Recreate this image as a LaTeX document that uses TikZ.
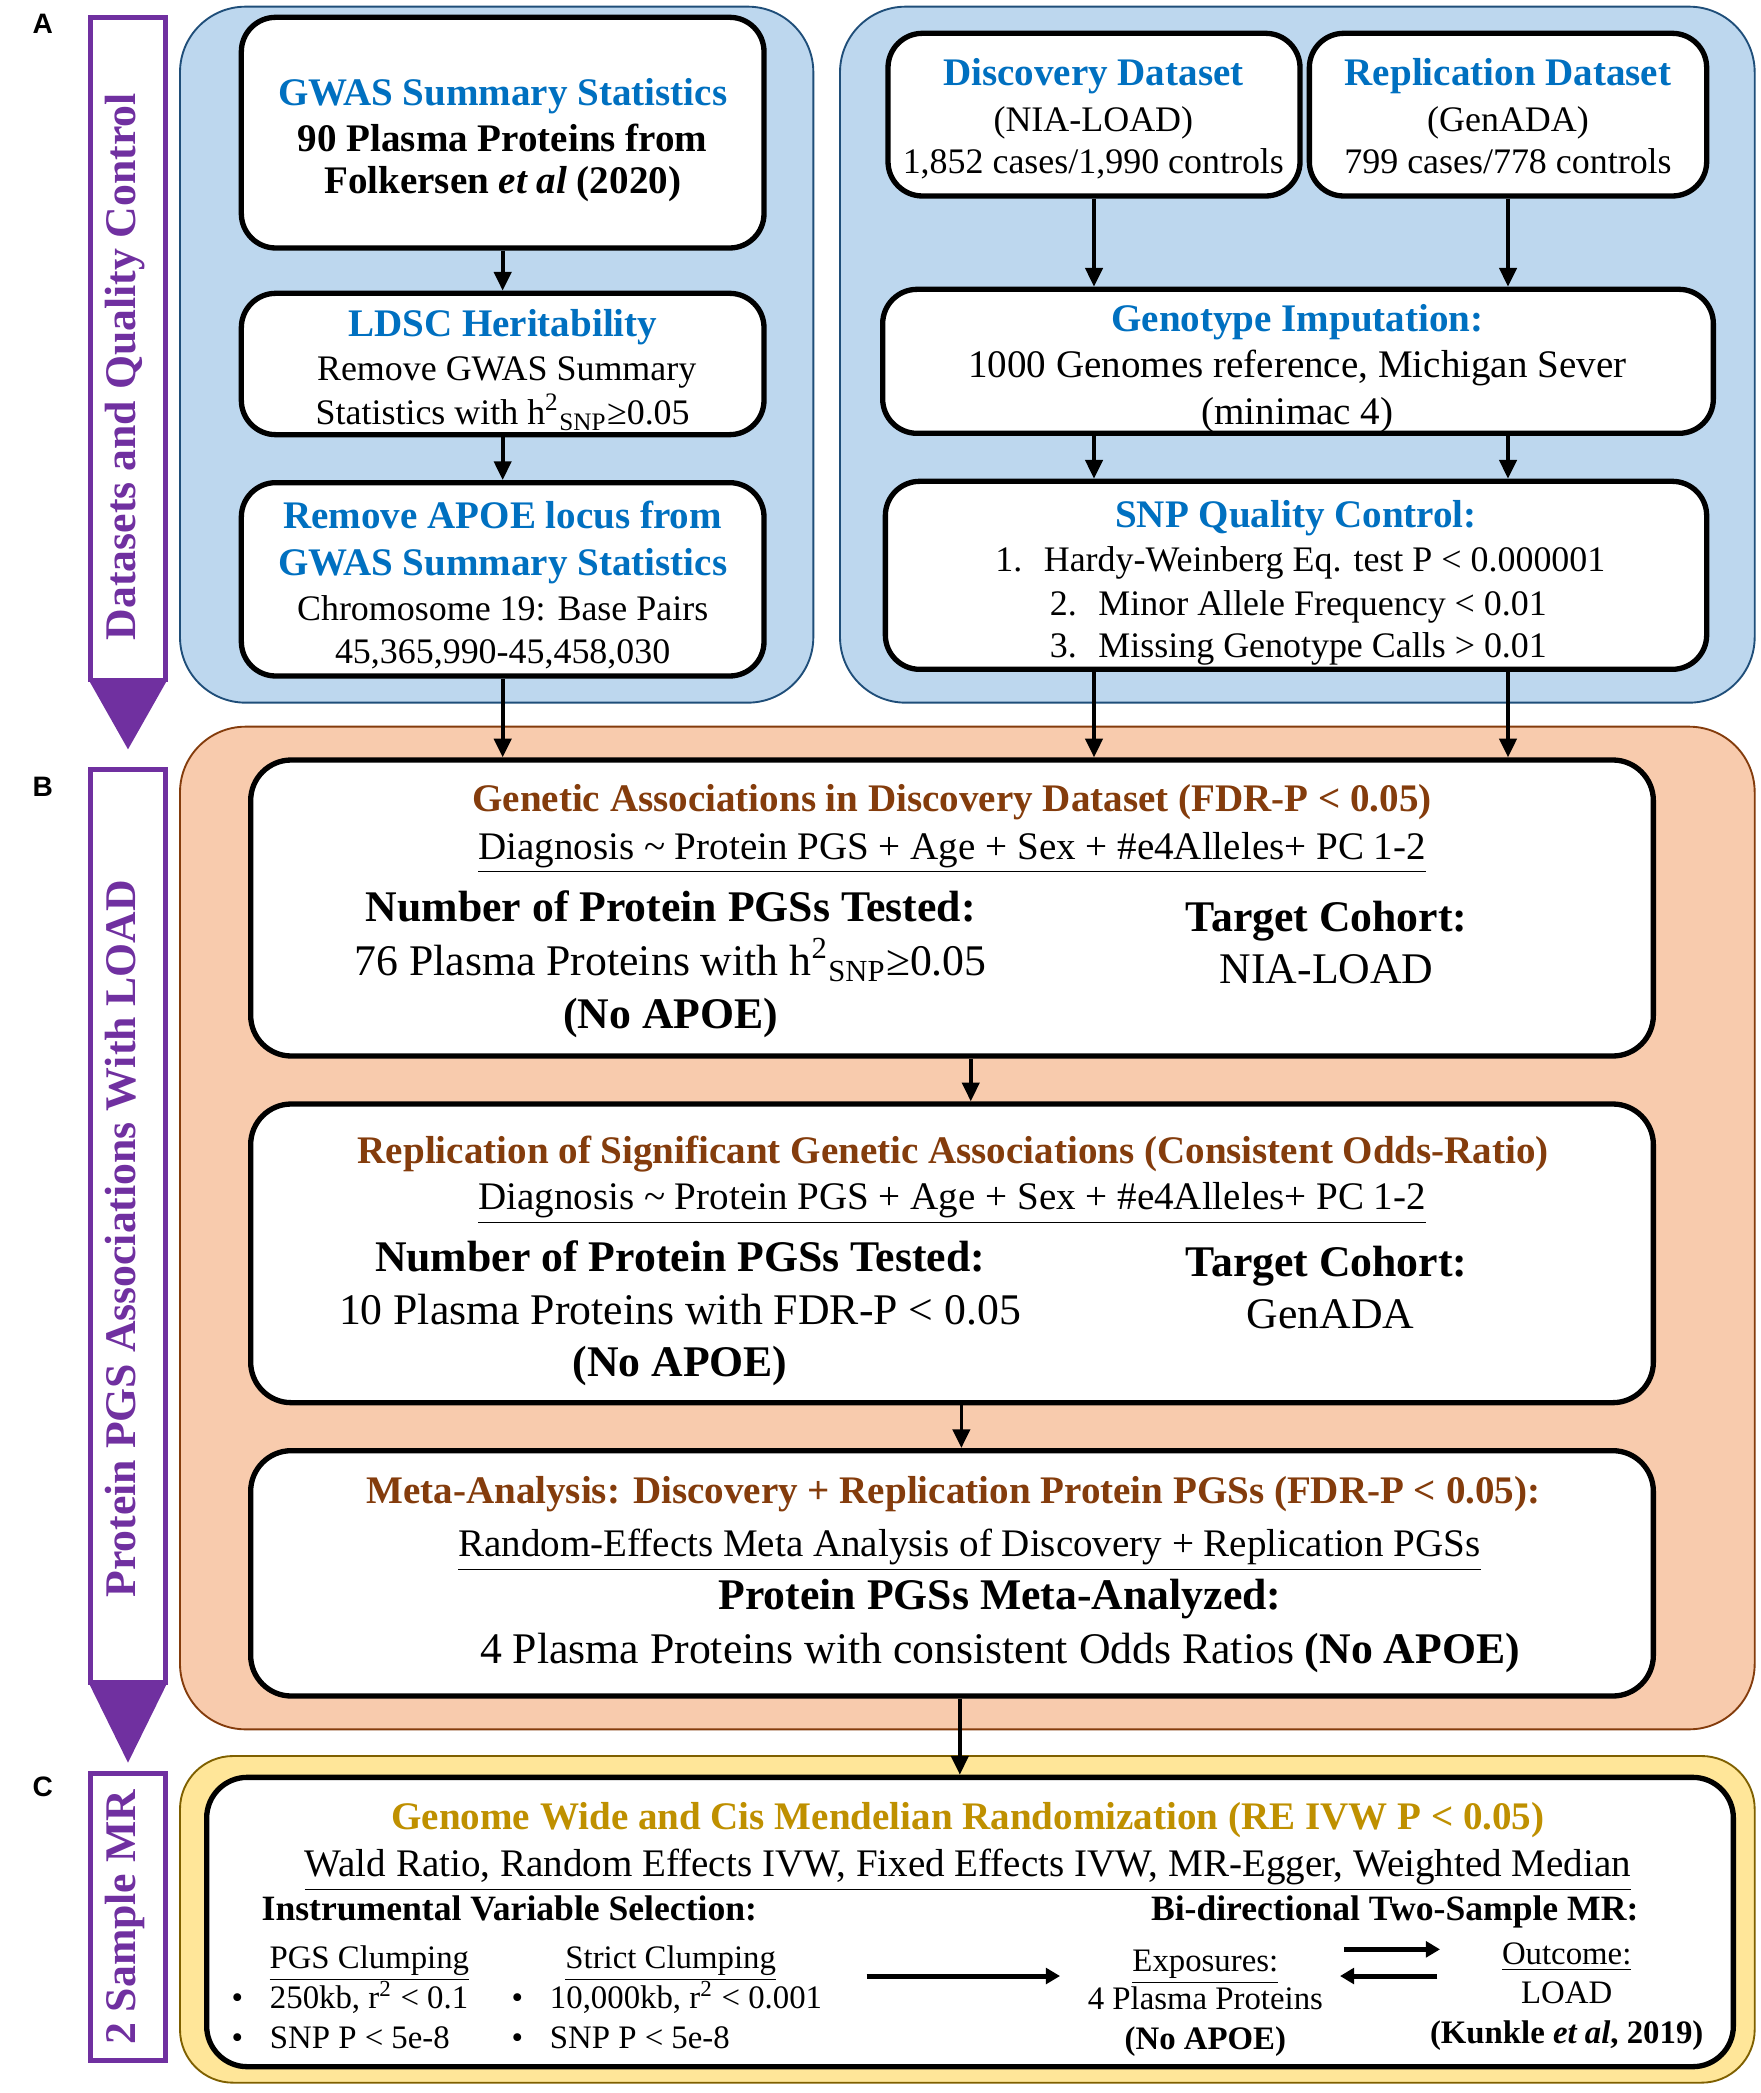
\documentclass[tikz,border=0pt]{standalone}
\usepackage{fontspec}
\setmainfont{Liberation Serif}
\newfontfamily\panelfont{Liberation Sans}
\usepackage{xcolor}
\definecolor{txtblue}{HTML}{0070C0}
\definecolor{txtbrown}{HTML}{843C0C}
\definecolor{txtgold}{HTML}{BF9000}
\definecolor{mpurple}{HTML}{7030A0}
\definecolor{bluefill}{HTML}{BDD7EE}
\definecolor{blueedge}{HTML}{1F4E79}
\definecolor{orangefill}{HTML}{F8CBAD}
\definecolor{orangeedge}{HTML}{843C0C}
\definecolor{yellowfill}{HTML}{FFE699}
\definecolor{yellowedge}{HTML}{7F6000}
\usepackage{tikz}
\usetikzlibrary{positioning}
\usetikzlibrary{arrows.meta}
\usetikzlibrary{fit}
\newcommand{\sizeA}{\fontsize{11.5}{14}\selectfont}
\newcommand{\sizeAT}{\fontsize{12.5}{15}\selectfont}
\newcommand{\sizeB}{\fontsize{14}{17}\selectfont}
\newcommand{\sizeT}{\fontsize{12.5}{15}\selectfont}
\newcommand{\sizeC}{\fontsize{10.5}{13}\selectfont}
\newcommand{\hsnp}{h\textsuperscript{2}\textsubscript{SNP}≥0.05}
\tikzset{
  panel/.style={rounded corners=21pt,line width=0.6pt,inner sep=0pt},
  bx/.style={draw=black,fill=white,line width=1.7pt,rounded corners=11pt,inner sep=0pt},
  ln/.style={anchor=mid,inner sep=0pt,yshift=-2.1pt},
  arr/.style={-{Triangle[length=6pt,width=5.5pt]},line width=1.2pt},
  bigarr/.style={-{Triangle[length=4.5pt,width=5pt]},line width=1.6pt},
  sidebar/.style={draw=mpurple,line width=1.6pt,fill=white},
  sidelabel/.style={rotate=90,anchor=mid,text=mpurple,font=\bfseries\fontsize{14}{16}\selectfont},
  partlabel/.style={font=\panelfont\bfseries\fontsize{9}{10}\selectfont},
}

\begin{document}
\begin{tikzpicture}[x=0.015cm,y=-0.015cm]
\useasboundingbox (0,0) rectangle (1320,1569.75);

% side bars
\draw[sidebar] (68,13) rectangle (124,510);
\fill[mpurple] (66,509) -- (126,509) -- (96,562) -- cycle;
\node (sideA) [sidelabel] at (96,275) {Datasets and Quality Control};
\draw[sidebar] (68,577) rectangle (124,1262);
\fill[mpurple] (66,1261) -- (126,1261) -- (96,1322) -- cycle;
\node (sideB) [sidelabel] at (96,929) {Protein PGS Associations With LOAD};
\draw[sidebar] (68,1330) rectangle (124,1545);
\node (sideC) [sidelabel] at (96,1438) {2 Sample MR};

\node (partA) [partlabel] at (32,18) {A};
\node (partB) [partlabel] at (32,590) {B};
\node (partC) [partlabel] at (32,1340) {C};

% panels
\node (panelL) [panel,draw=blueedge,fill=bluefill,fit={(135,5) (610,527)}] {};
\node (panelR) [panel,draw=blueedge,fill=bluefill,fit={(630,5) (1316,527)}] {};
\node (panelB) [panel,draw=orangeedge,fill=orangefill,fit={(135,545) (1316,1297)}] {};
\node (panelC) [panel,rounded corners=17pt,draw=yellowedge,fill=yellowfill,fit={(135,1317) (1316,1562)}] {};

% section A boxes
\node (gwas) [bx,fit={(181,13) (573,186)}] {};
\node (ldsc) [bx,fit={(181,220) (573,326)}] {};
\node (apoe) [bx,fit={(181,362) (573,507)}] {};
\node (disc) [bx,fit={(666,25) (975,147)}] {};
\node (repl) [bx,fit={(982,25) (1280,147)}] {};
\node (geno) [bx,fit={(662,217) (1285,325)}] {};
\node (snp) [bx,fit={(664,361) (1280,502)}] {};

% section B and C boxes
\node (b1) [bx,rounded corners=13pt,fit={(188,570) (1240,792)}] {};
\node (b2) [bx,rounded corners=13pt,fit={(188,828) (1240,1052)}] {};
\node (b3) [bx,rounded corners=13pt,fit={(188,1088) (1240,1272)}] {};
\node (mr) [bx,rounded corners=13pt,fit={(155,1333) (1300,1550)}] {};

% texts, A
\begin{scope}[every node/.append style={font=\sizeA}]
\node (gwasT) [ln,text=txtblue,font=\sizeAT\bfseries] at (377,69) {GWAS Summary Statistics};
\node (gwasL1) [ln,font=\sizeAT\bfseries] at (377,103) {90 Plasma Proteins from};
\node (gwasL2) [ln,font=\sizeAT\bfseries] at (377,135) {Folkersen \textit{et al} (2020)};
\node (ldscT) [ln,text=txtblue,font=\sizeAT\bfseries] at (377,242) {LDSC Heritability};
\node (ldscL1) [ln] at (380,275) {Remove GWAS Summary};
\node (ldscL2) [ln] at (377,308) {Statistics with \hsnp};
\node (apoeT1) [ln,text=txtblue,font=\sizeAT\bfseries] at (377,386) {Remove APOE locus from};
\node (apoeT2) [ln,text=txtblue,font=\sizeAT\bfseries] at (377,421) {GWAS Summary Statistics};
\node (apoeL1) [ln] at (377,455) {Chromosome 19: Base Pairs};
\node (apoeL2) [ln] at (377,487) {45,365,990-45,458,030};
\node (discT) [ln,text=txtblue,font=\sizeAT\bfseries] at (820,54) {Discovery Dataset};
\node (discL1) [ln] at (820,88) {(NIA-LOAD)};
\node (discL2) [ln] at (820,120) {1,852 cases/1,990 controls};
\node (replT) [ln,text=txtblue,font=\sizeAT\bfseries] at (1131,54) {Replication Dataset};
\node (replL1) [ln] at (1131,88) {(GenADA)};
\node (replL2) [ln] at (1131,120) {799 cases/778 controls};
\node (genoT) [ln,text=txtblue,font=\sizeAT\bfseries] at (973,238) {Genotype Imputation:};
\node (genoL1) [ln,font=\sizeAT] at (973,273) {1000 Genomes reference, Michigan Sever};
\node (genoL2) [ln,font=\sizeAT] at (973,308) {(minimac 4)};
\node (snpT) [ln,text=txtblue,font=\sizeAT\bfseries] at (972,385) {SNP Quality Control:};
\node (snpL1) [ln,anchor=mid west] at (746,418) {1.\hspace{0.6em}Hardy-Weinberg Eq. test P < 0.000001};
\node (snpL2) [ln,anchor=mid west] at (787,451) {2.\hspace{0.6em}Minor Allele Frequency < 0.01};
\node (snpL3) [ln,anchor=mid west] at (787,483) {3.\hspace{0.6em}Missing Genotype Calls > 0.01};
\end{scope}

% texts, B
\begin{scope}[every node/.append style={font=\sizeB}]
\node (b1T) [ln,text=txtbrown,font=\sizeT\bfseries] at (714,598) {Genetic Associations in Discovery Dataset (FDR-P < 0.05)};
\node (b1F) [ln,font=\sizeT] at (714,634) {\underline{Diagnosis \textasciitilde{} Protein PGS + Age + Sex + \#e4Alleles+ PC 1-2}};
\node (b1L1) [ln,font=\sizeB\bfseries] at (503,681) {Number of Protein PGSs Tested:};
\node (b1L2) [ln] at (503,721) {76 Plasma Proteins with \hsnp};
\node (b1L3) [ln,font=\sizeB\bfseries] at (503,761) {(No APOE)};
\node (b1R1) [ln,font=\sizeB\bfseries] at (995,688) {Target Cohort:};
\node (b1R2) [ln] at (995,727) {NIA-LOAD};
\node (b2T) [ln,text=txtbrown,font=\sizeT\bfseries] at (715,862) {Replication of Significant Genetic Associations (Consistent Odds-Ratio)};
\node (b2F) [ln,font=\sizeT] at (714,897) {\underline{Diagnosis \textasciitilde{} Protein PGS + Age + Sex + \#e4Alleles+ PC 1-2}};
\node (b2L1) [ln,font=\sizeB\bfseries] at (510,943) {Number of Protein PGSs Tested:};
\node (b2L2) [ln] at (510,983) {10 Plasma Proteins with FDR-P < 0.05};
\node (b2L3) [ln,font=\sizeB\bfseries] at (510,1022) {(No APOE)};
\node (b2R1) [ln,font=\sizeB\bfseries] at (995,947) {Target Cohort:};
\node (b2R2) [ln] at (998,986) {GenADA};
\node (b3T) [ln,text=txtbrown,font=\sizeT\bfseries] at (715,1117) {Meta-Analysis: Discovery + Replication Protein PGSs (FDR-P < 0.05):};
\node (b3F) [ln,font=\sizeT] at (727,1157) {\underline{Random-Effects Meta Analysis of Discovery + Replication PGSs}};
\node (b3L1) [ln,font=\sizeB\bfseries] at (750,1197) {Protein PGSs Meta-Analyzed:};
\node (b3L2) [ln] at (750,1237) {4 Plasma Proteins with consistent Odds Ratios \textbf{(No APOE)}};
\end{scope}

% texts, C
\begin{scope}[every node/.append style={font=\sizeC}]
\node (mrT) [ln,text=txtgold,font=\sizeT\bfseries] at (726,1362) {Genome Wide and Cis Mendelian Randomization (RE IVW P < 0.05)};
\node (mrF) [ln,font=\sizeT] at (726,1397) {\underline{Wald Ratio, Random Effects IVW, Fixed Effects IVW, MR-Egger, Weighted Median}};
\node (ivsel) [ln,font=\fontsize{11.4}{13}\selectfont\bfseries] at (382,1430) {Instrumental Variable Selection:};
\node (bidir) [ln,font=\fontsize{11.4}{13}\selectfont\bfseries] at (1046,1430) {Bi-directional Two-Sample MR:};
\node (pgsclump) [ln] at (277,1466) {\underline{PGS Clumping}};
\node (strict) [ln] at (503,1466) {\underline{Strict Clumping}};
\node (pb1) [ln] at (178,1496) {\textbullet};
\node (pb2) [ln] at (178,1526) {\textbullet};
\node (pgs1) [ln,anchor=mid west] at (202,1496) {250kb, r\textsuperscript{2} < 0.1};
\node (pgs2) [ln,anchor=mid west] at (202,1526) {SNP P < 5e-8};
\node (sb1) [ln] at (388,1496) {\textbullet};
\node (sb2) [ln] at (388,1526) {\textbullet};
\node (str1) [ln,anchor=mid west] at (412,1496) {10,000kb, r\textsuperscript{2} < 0.001};
\node (str2) [ln,anchor=mid west] at (412,1526) {SNP P < 5e-8};
\node (expT) [ln] at (904,1468) {\underline{Exposures:}};
\node (expL1) [ln] at (904,1497) {4 Plasma Proteins};
\node (expL2) [ln,font=\sizeC\bfseries] at (904,1527) {(No APOE)};
\node (outT) [ln] at (1175,1463) {\underline{Outcome:}};
\node (outL1) [ln] at (1175,1492) {LOAD};
\node (outL2) [ln,font=\sizeC\bfseries] at (1175,1522) {(Kunkle \textit{et al}, 2019)};
\end{scope}

% connectors
\draw[arr] (gwas) -- (ldsc);
\draw[arr] (ldsc) -- (apoe);
\draw[arr] (apoe.south) -- (apoe.south |- b1.north);
\draw[arr] (disc.south) -- (disc.south |- geno.north);
\draw[arr] (repl.south) -- (repl.south |- geno.north);
\draw[arr] (geno.south -| disc.south) -- (disc.south |- snp.north);
\draw[arr] (geno.south -| repl.south) -- (repl.south |- snp.north);
\draw[arr] (snp.south -| disc.south) -- (disc.south |- b1.north);
\draw[arr] (snp.south -| repl.south) -- (repl.south |- b1.north);
\draw[arr] ([xshift=6pt]b1.south) -- ([xshift=6pt]b2.north);
\draw[arr] ([xshift=3pt]b2.south) -- ([xshift=3pt]b3.north);
\draw[arr] ([xshift=2.5pt]b3.south) -- ([xshift=2.5pt]b3.south |- mr.north);

\coordinate (selA) at (650,1482);
\coordinate (selB) at (795,1482);
\coordinate (fwdA) at (1008,1462);
\coordinate (fwdB) at (1080,1462);
\coordinate (revA) at (1078,1482);
\coordinate (revB) at (1005,1482);
\draw[bigarr] (selA) -- (selB);
\draw[bigarr] (fwdA) -- (fwdB);
\draw[bigarr] (revA) -- (revB);
\end{tikzpicture}
\end{document}
